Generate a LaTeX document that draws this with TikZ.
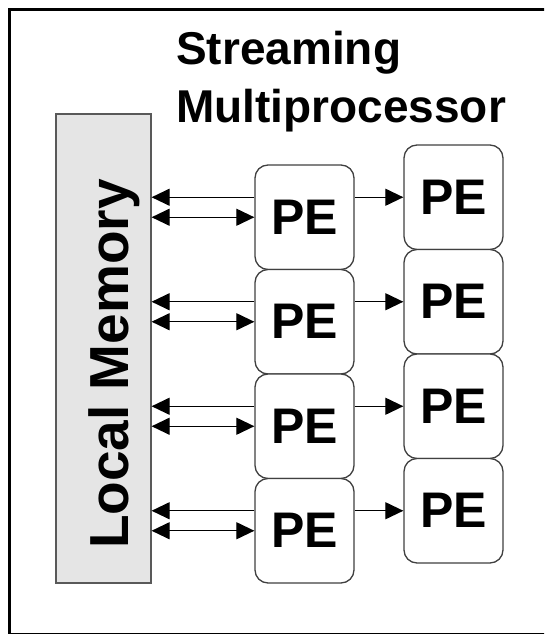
\documentclass[tikz,border=0pt]{standalone}
\usepackage{fontspec}
\setmainfont{Liberation Sans}
\usetikzlibrary{arrows.meta}

\begin{document}
\begin{tikzpicture}[x=1pt,y=-1pt,
    pebox/.style={draw=black!75,line width=1.3pt,rounded corners=13pt,fill=white,
      minimum width=99pt,minimum height=104.5pt,inner sep=0pt,
      font=\fontsize{50}{50}\selectfont\bfseries},
    membox/.style={draw=black!65,line width=1.2pt,fill=black!10,
      minimum width=95pt,minimum height=469pt,inner sep=0pt},
    link/.style={line width=1.2pt,-{Triangle[length=18pt,width=17pt]}},
    duplex/.style={line width=1.2pt,{Triangle[length=18pt,width=17pt]}-{Triangle[length=18pt,width=17pt]}}]
      \useasboundingbox (0,0) rectangle (544,634);
      \clip (0,0) rectangle (544,634);

      % outer frame (runs on past the right edge)
      \draw[line width=3pt] (560,9.5) -- (9.5,9.5) -- (9.5,634.8) -- (560,634.8);

      % title
      \node[anchor=base west,inner sep=0pt,font=\fontsize{46}{46}\selectfont\bfseries] (ttl1) at (176,65) {Streaming};
      \node[anchor=base west,inner sep=0pt,font=\fontsize{46}{46}\selectfont\bfseries] (ttl2) at (176,122) {Multiprocessor};

      % local memory
      \node[membox] (mem) at (103.5,348.5) {};
      \node[rotate=90,anchor=base,inner sep=0pt,font=\fontsize{55}{55}\selectfont\bfseries] (memlbl) at (128,364) {Local Memory};

      % processing elements
      \foreach \i in {1,...,4}{
        \node[pebox] (pel\i) at (304.5,{217.25+104.5*(\i-1)}) {PE};
        \node[pebox] (per\i) at (453.5,{197.25+104.5*(\i-1)}) {PE};
      }

      \foreach \i in {1,...,4}{
        \draw[link] (pel\i.west |- per\i.west) -- (mem.east |- per\i.west);
        \draw[duplex] (mem.east |- pel\i.west) -- (pel\i.west);
        \draw[link] (pel\i.east |- per\i.west) -- (per\i.west);
      }
\end{tikzpicture}
\end{document}
